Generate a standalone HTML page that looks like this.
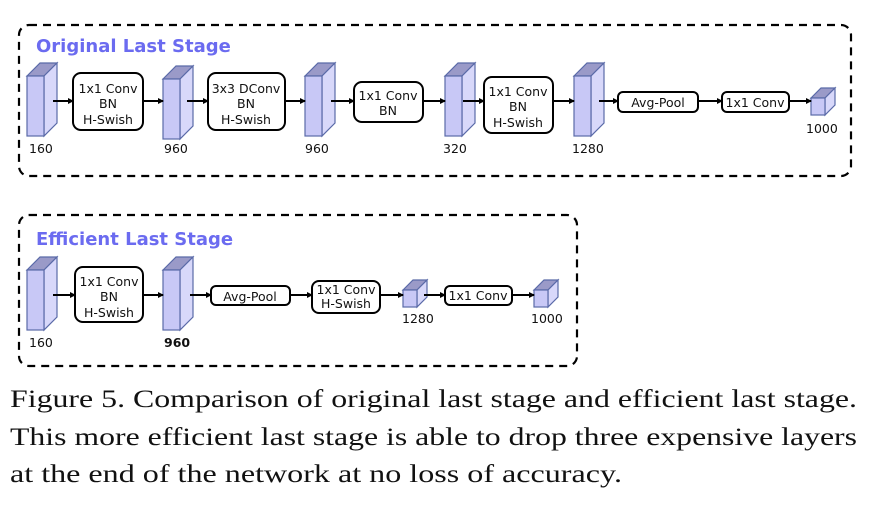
<!DOCTYPE html>
<html><head><meta charset="utf-8"><style>
html,body{margin:0;padding:0;background:#fff;}
svg{display:block;}
.t{font-family:"DejaVu Sans","Liberation Sans",sans-serif;font-size:12.5px;fill:#111;}
.ti{font-family:"DejaVu Sans","Liberation Sans",sans-serif;font-size:18px;font-weight:bold;fill:#6b6bf0;}
.cap{font-family:"Liberation Serif","Times New Roman",serif;font-size:25px;fill:#111;}
.box{fill:#fff;stroke:#000;stroke-width:2;}
.fr{fill:#c8c8f6;stroke:#5a6aa8;stroke-width:1.2;}
.tp{fill:#9a9ac8;stroke:#5a6aa8;stroke-width:1.2;}
.sd{fill:#d8d8fa;stroke:#5a6aa8;stroke-width:1.2;}
.ar{stroke:#000;stroke-width:2;fill:none;marker-end:url(#ah);}
</style></head><body>
<svg width="870" height="512" viewBox="0 0 870 512">
<defs><marker id="ah" markerWidth="6" markerHeight="6" refX="5" refY="3" orient="auto" markerUnits="userSpaceOnUse"><path d="M0,0 L6,3 L0,6 z" fill="#000"/></marker>
<g id="tall"><polygon class="tp" points="0,13 13,0 30,0 17,13"/><polygon class="sd" points="17,13 30,0 30,60 17,73"/><rect class="fr" x="0" y="13" width="17" height="60"/></g>
<g id="small"><polygon class="tp" points="0,10 10,0 24,0 14,10"/><polygon class="sd" points="14,10 24,0 24,17 14,27"/><rect class="fr" x="0" y="10" width="14" height="17"/></g>
</defs>
<rect x="19" y="25" width="832" height="151" rx="10" fill="none" stroke="#000" stroke-width="2.2" stroke-dasharray="8,6"/>
<text class="ti" x="36" y="52">Original Last Stage</text>
<use href="#tall" x="27" y="63"/><use href="#tall" x="163" y="66"/><use href="#tall" x="305" y="63"/><use href="#tall" x="445" y="63"/><use href="#tall" x="574" y="63"/><use href="#small" x="811" y="88"/>
<rect class="box" x="73" y="73" width="70" height="57" rx="8"/>
<text class="t" text-anchor="middle" x="108" y="93">1x1 Conv</text><text class="t" text-anchor="middle" x="108" y="108">BN</text><text class="t" text-anchor="middle" x="108" y="124">H-Swish</text>
<rect class="box" x="208" y="73" width="77" height="57" rx="8"/>
<text class="t" text-anchor="middle" x="246" y="93">3x3 DConv</text><text class="t" text-anchor="middle" x="246" y="108">BN</text><text class="t" text-anchor="middle" x="246" y="124">H-Swish</text>
<rect class="box" x="354" y="82" width="69" height="40" rx="8"/>
<text class="t" text-anchor="middle" x="388" y="100">1x1 Conv</text><text class="t" text-anchor="middle" x="388" y="115">BN</text>
<rect class="box" x="484" y="77" width="69" height="56" rx="8"/>
<text class="t" text-anchor="middle" x="518" y="96">1x1 Conv</text><text class="t" text-anchor="middle" x="518" y="111">BN</text><text class="t" text-anchor="middle" x="518" y="127">H-Swish</text>
<rect class="box" x="618" y="92" width="80" height="20" rx="5"/>
<text class="t" text-anchor="middle" x="658" y="107">Avg-Pool</text>
<rect class="box" x="722" y="92" width="67" height="20" rx="5"/>
<text class="t" text-anchor="middle" x="755" y="107">1x1 Conv</text>
<line class="ar" x1="53" y1="101" x2="73" y2="101"/><line class="ar" x1="143" y1="101" x2="163" y2="101"/>
<line class="ar" x1="187" y1="101" x2="208" y2="101"/><line class="ar" x1="285" y1="101" x2="305" y2="101"/>
<line class="ar" x1="331" y1="101" x2="354" y2="101"/><line class="ar" x1="423" y1="101" x2="445" y2="101"/>
<line class="ar" x1="463" y1="101" x2="484" y2="101"/><line class="ar" x1="553" y1="101" x2="574" y2="101"/>
<line class="ar" x1="599" y1="101" x2="618" y2="101"/><line class="ar" x1="698" y1="101" x2="722" y2="101"/>
<line class="ar" x1="789" y1="101" x2="811" y2="101"/>
<text class="t" x="29" y="153">160</text><text class="t" x="164" y="153">960</text><text class="t" x="305" y="153">960</text><text class="t" x="443" y="153">320</text><text class="t" x="572" y="153">1280</text><text class="t" x="806" y="133">1000</text>

<rect x="19" y="215" width="558" height="151" rx="10" fill="none" stroke="#000" stroke-width="2.2" stroke-dasharray="8,6"/>
<text class="ti" x="36" y="245">Efficient Last Stage</text>
<use href="#tall" x="27" y="257"/><use href="#tall" x="163" y="257"/><use href="#small" x="403" y="280"/><use href="#small" x="534" y="280"/>
<rect class="box" x="75" y="267" width="68" height="55" rx="8"/>
<text class="t" text-anchor="middle" x="109" y="286">1x1 Conv</text><text class="t" text-anchor="middle" x="109" y="301">BN</text><text class="t" text-anchor="middle" x="109" y="317">H-Swish</text>
<rect class="box" x="211" y="286" width="79" height="19" rx="5"/>
<text class="t" text-anchor="middle" x="250" y="301">Avg-Pool</text>
<rect class="box" x="312" y="281" width="68" height="32" rx="7"/>
<text class="t" text-anchor="middle" x="346" y="294">1x1 Conv</text><text class="t" text-anchor="middle" x="346" y="308">H-Swish</text>
<rect class="box" x="445" y="286" width="67" height="19" rx="5"/>
<text class="t" text-anchor="middle" x="478" y="300">1x1 Conv</text>
<line class="ar" x1="53" y1="295" x2="75" y2="295"/><line class="ar" x1="143" y1="295" x2="163" y2="295"/>
<line class="ar" x1="190" y1="295" x2="211" y2="295"/><line class="ar" x1="290" y1="295" x2="312" y2="295"/>
<line class="ar" x1="380" y1="295" x2="403" y2="295"/><line class="ar" x1="424" y1="295" x2="445" y2="295"/>
<line class="ar" x1="512" y1="295" x2="534" y2="295"/>
<text class="t" x="29" y="347">160</text><text class="t" x="164" y="347" font-weight="bold">960</text><text class="t" x="402" y="323">1280</text><text class="t" x="531" y="323">1000</text>

<text class="cap" x="10" y="407" textLength="847" lengthAdjust="spacingAndGlyphs">Figure 5. Comparison of original last stage and efficient last stage.</text>
<text class="cap" x="10" y="445" textLength="847" lengthAdjust="spacingAndGlyphs">This more efficient last stage is able to drop three expensive layers</text>
<text class="cap" x="10" y="482" textLength="612" lengthAdjust="spacingAndGlyphs">at the end of the network at no loss of accuracy.</text>
</svg>
</body></html>
